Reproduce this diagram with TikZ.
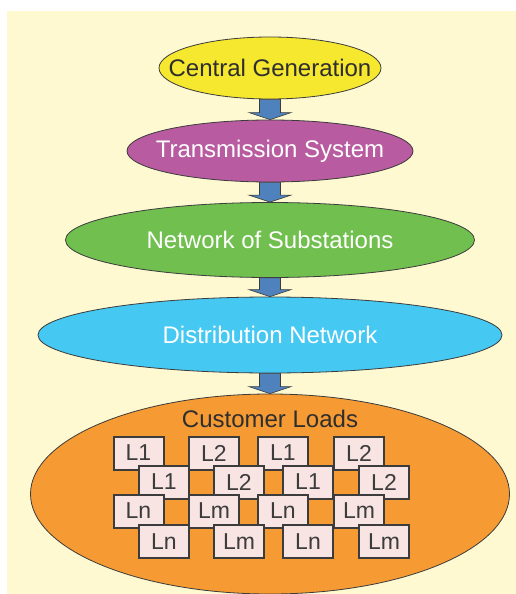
\documentclass[tikz,border=0pt]{standalone}
\usepackage{fontspec}
\setmainfont{Liberation Sans}
\usetikzlibrary{shapes.geometric,calc}
\definecolor{bgc}{HTML}{FEF9D1}
\definecolor{cgc}{HTML}{F6E72F}
\definecolor{tsc}{HTML}{B85BA0}
\definecolor{nsc}{HTML}{70BF4F}
\definecolor{dnc}{HTML}{45C8F2}
\definecolor{clc}{HTML}{F69A33}
\definecolor{boxc}{HTML}{F7E4E3}
\definecolor{edgec}{HTML}{3C3C3C}
\definecolor{arrc}{HTML}{4F81BD}
\definecolor{txtc}{HTML}{2E2E2E}
\tikzset{
  ell/.style={ellipse, draw=edgec, line width=0.8pt, inner sep=0pt,
    font=\fontsize{24}{28}\selectfont},
  loadbox/.style={rectangle, draw=edgec, fill=boxc, line width=2pt,
    minimum width=50pt, minimum height=33pt, inner sep=0pt,
    text=edgec, font=\fontsize{23}{26}\selectfont},
  blockarr/.style={fill=arrc, draw=edgec, line width=0.6pt, line join=miter}
}
\newcommand{\blockarrow}[2]{%
  \path[blockarr] let \p1=(#1.south), \p2=(#2.north) in
    (\x1-10.5pt,\y1) -- (\x1+10.5pt,\y1) -- (\x1+10.5pt,\y2+7pt) --
    (\x1+21pt,\y2+7pt) -- (\x1,\y2) -- (\x1-21pt,\y2+7pt) --
    (\x1-10.5pt,\y2+7pt) -- cycle;}
\newcommand{\ztext}[1]{\makebox[0pt]{#1}}
\begin{document}
\begin{tikzpicture}[x=1pt,y=-1pt]
\useasboundingbox (0,0) rectangle (516,594);
\fill[bgc] (7,11) rectangle (516,594);
\begin{scope}
\clip (7,11) rectangle (516,594);
\node[ell, fill=cgc, text=txtc, minimum width=222pt, minimum height=62pt] (cg) at (270,68) {\ztext{Central Generation}};
\node[ell, fill=tsc, text=white, minimum width=286pt, minimum height=62pt] (ts) at (270,151) {\ztext{Transmission System}};
\node[ell, fill=nsc, text=white, minimum width=409pt, minimum height=75pt] (ns) at (270,240) {\ztext{Network of Substations}};
\node[ell, fill=dnc, text=white, minimum width=464pt, minimum height=76pt] (dn) at (270,335) {\ztext{Distribution Network}};
\node[ell, fill=clc, minimum width=479pt, minimum height=200pt] (cl) at (270,494) {};
\end{scope}
\node[text=txtc, font=\fontsize{24}{28}\selectfont] (cltext) at (270,419) {Customer Loads};
\blockarrow{cg}{ts}
\blockarrow{ts}{ns}
\blockarrow{ns}{dn}
\blockarrow{dn}{cl}
% row 1
\node[loadbox] (a1) at (138.5,453) {L1};
\node[loadbox] (a2) at (214,453) {L2};
\node[loadbox] (a3) at (283,453) {L1};
\node[loadbox] (a4) at (359,453) {L2};
% row 2
\node[loadbox] (b1) at (164,482) {L1};
\node[loadbox] (b2) at (239,482) {L2};
\node[loadbox] (b3) at (308,482) {L1};
\node[loadbox] (b4) at (384,482) {L2};
% row 3
\node[loadbox] (c1) at (138.5,511) {Ln};
\node[loadbox] (c2) at (214,511) {Lm};
\node[loadbox] (c3) at (283,511) {Ln};
\node[loadbox] (c4) at (359,511) {Lm};
% row 4
\node[loadbox] (d1) at (164,541.5) {Ln};
\node[loadbox] (d2) at (239,541.5) {Lm};
\node[loadbox] (d3) at (308,541.5) {Ln};
\node[loadbox] (d4) at (384,541.5) {Lm};
\end{tikzpicture}
\end{document}
